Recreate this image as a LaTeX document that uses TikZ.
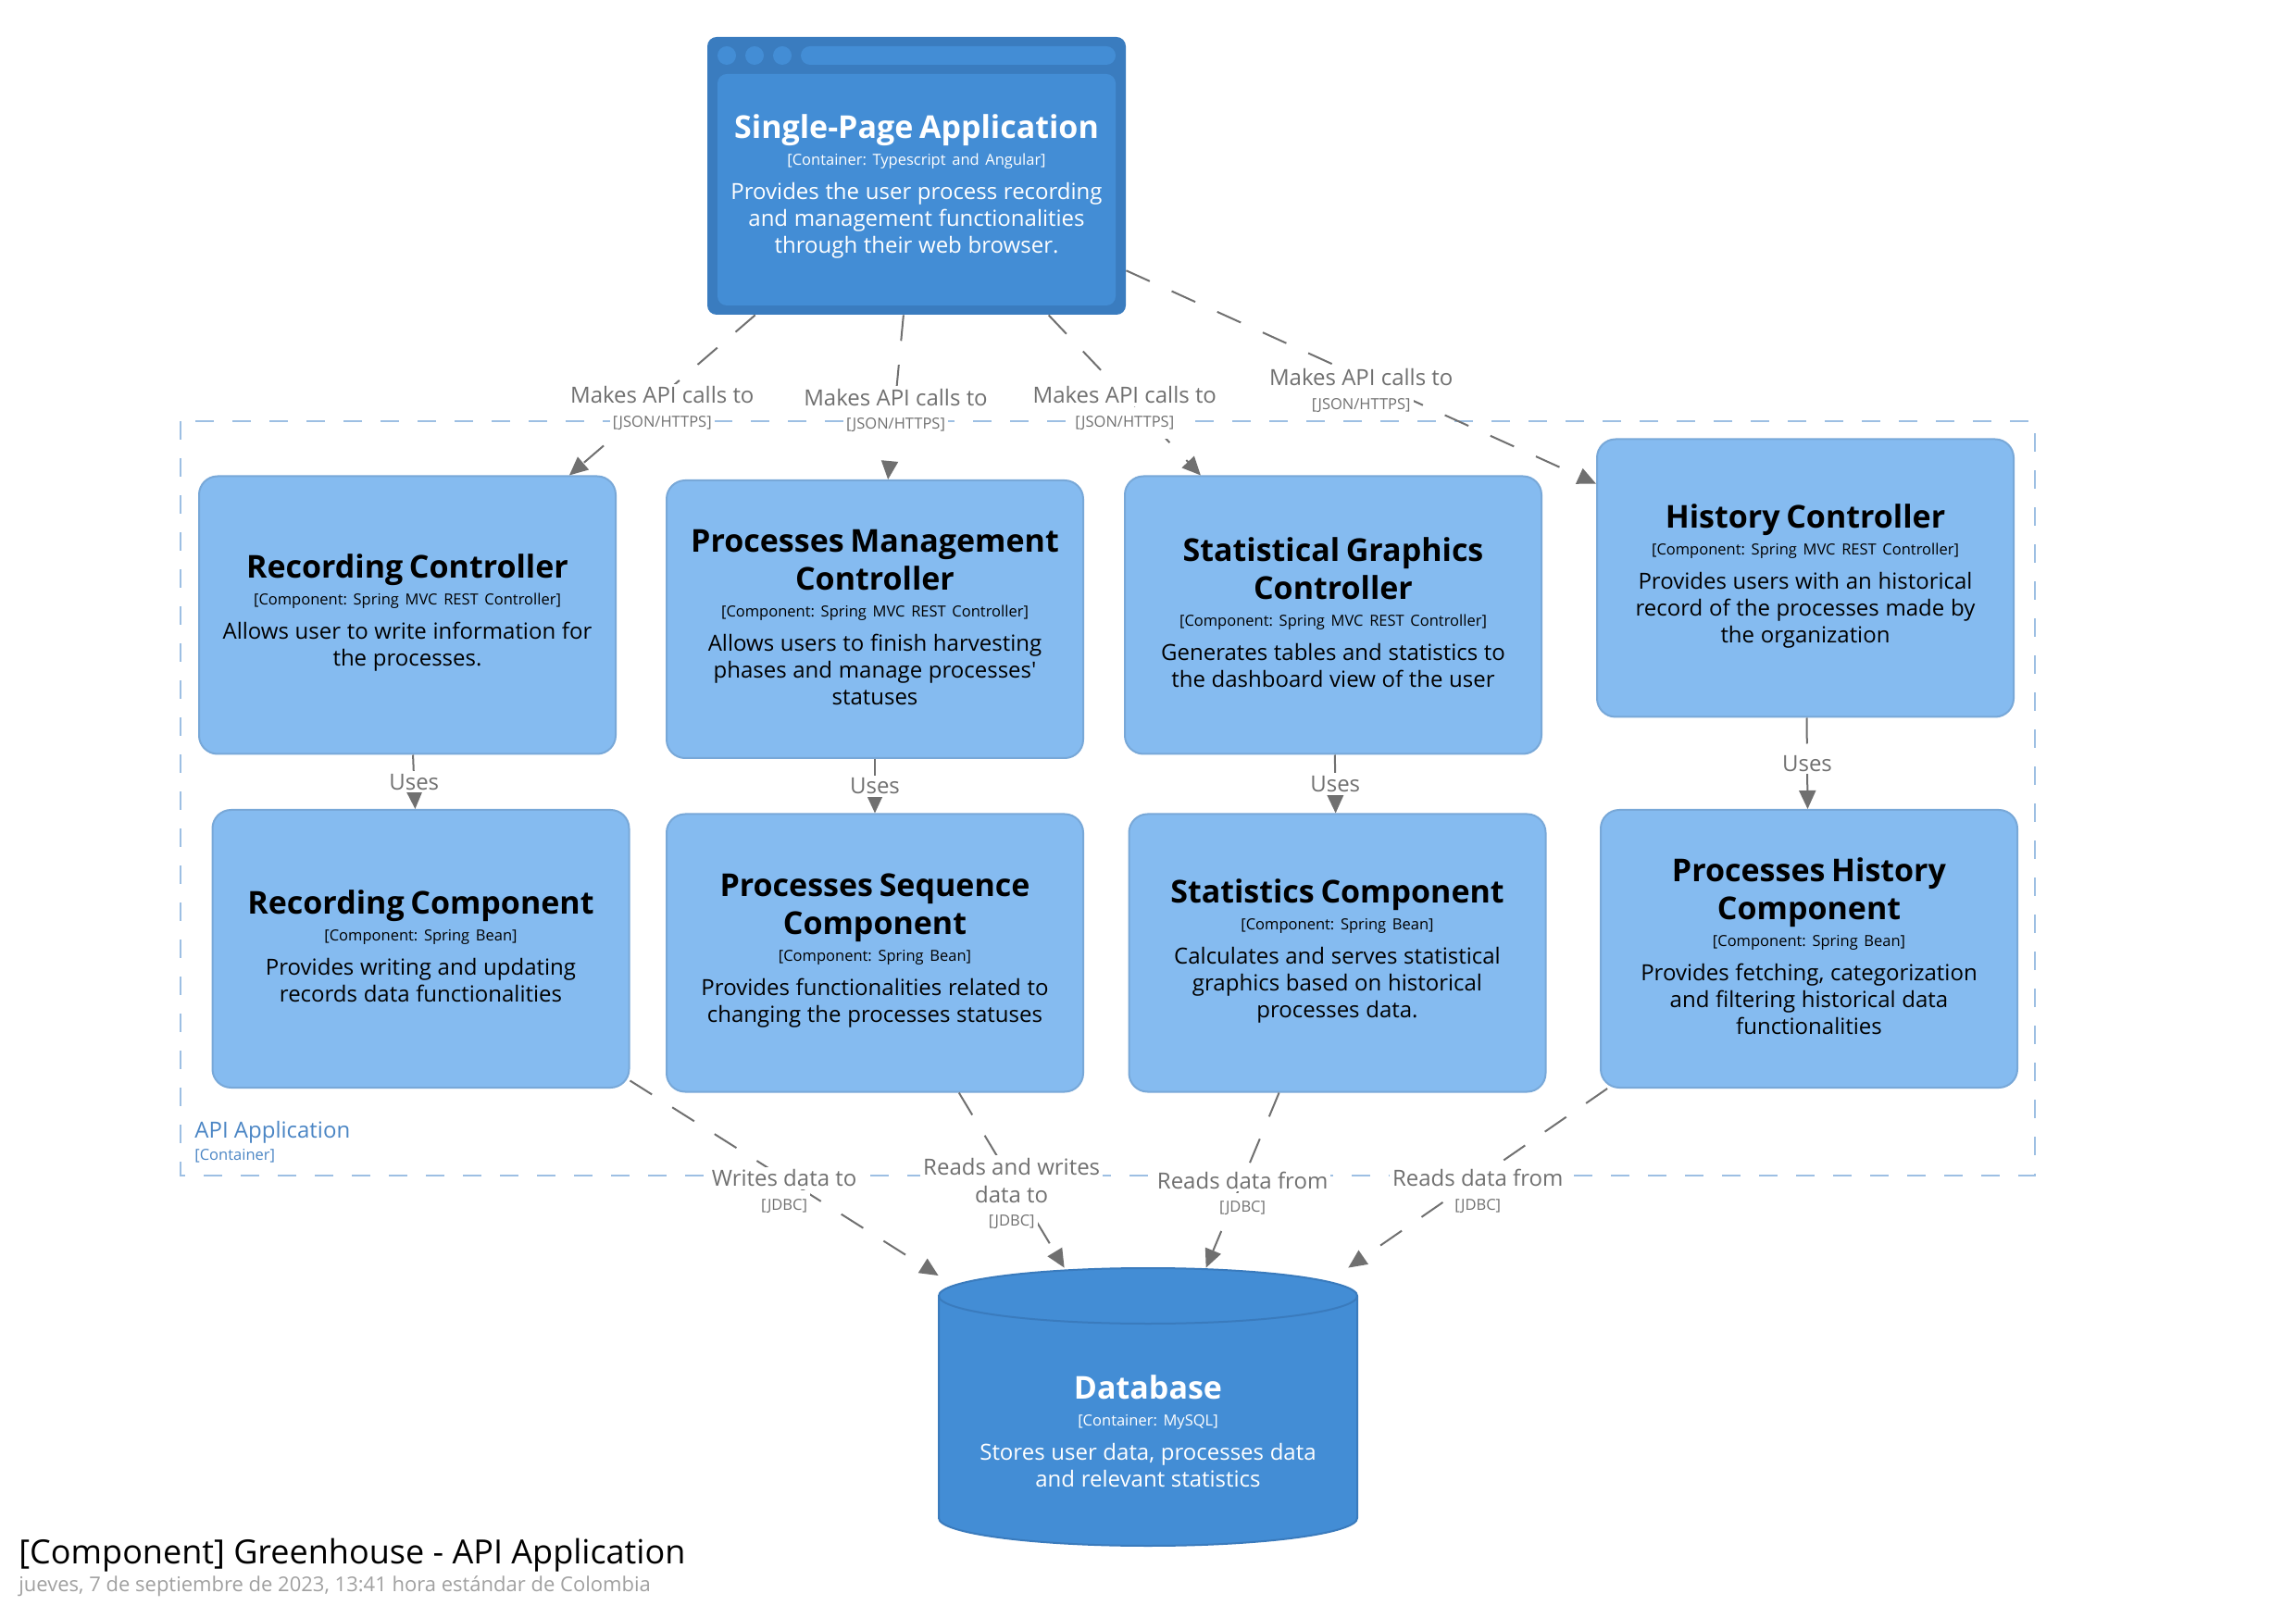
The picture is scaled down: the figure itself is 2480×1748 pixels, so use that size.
\documentclass[tikz,border=0pt]{standalone}
\usepackage{fontspec}
\setmainfont{Open Sans}
\usetikzlibrary{positioning,arrows.meta}
\frenchspacing

\definecolor{spaframe}{HTML}{3A7CBF}
\definecolor{spafill}{HTML}{438DD5}
\definecolor{compfill}{HTML}{85BBF0}
\definecolor{compedge}{HTML}{78A8D8}
\definecolor{dbedge}{HTML}{3A7BBD}
\definecolor{relgray}{HTML}{707070}
\definecolor{bndline}{HTML}{9DBFE3}
\definecolor{bndtext}{HTML}{4A85C4}
\definecolor{dategray}{HTML}{A0A0A0}

\newcommand{\namefont}{\fontsize{17pt}{20.5pt}\selectfont\bfseries}
\newcommand{\metafont}{\fontsize{8.25pt}{14.5pt}\selectfont}
\newcommand{\descfont}{\fontsize{12pt}{14.5pt}\selectfont}
\newcommand{\elem}[3]{{\namefont #1\par}{\metafont [#2]\par}\vskip4pt{\descfont #3\par}}
\newcommand{\compelem}[3]{\elem{#1}{#2}{#3}\kern2.5pt}

\tikzset{
  comp/.style={draw=compedge, line width=1pt, fill=compfill, rounded corners=10pt,
    minimum width=225pt, minimum height=150pt, text width=215pt, align=center, inner sep=0pt},
  rel/.style={draw=relgray, line width=1pt, dash pattern=on 14pt off 13pt,
    -{Triangle[length=10pt,width=9pt]}},
  lbl/.style={fill=white, text=relgray, inner sep=1.5pt, align=center,
    font=\fontsize{12pt}{15pt}\selectfont},
  tech/.style={fill=white, text=relgray, inner xsep=1.5pt, inner ysep=4.5pt,
    font=\fontsize{8.25pt}{10pt}\selectfont},
}

\begin{document}
\begin{tikzpicture}[x=0.5pt, y=-0.5pt]
    \useasboundingbox (0,0) rectangle (2480,1748);

    % --- API Application boundary ---
    \draw[bndline, line width=1pt, dash pattern=on 10pt off 10pt] (195,455) rectangle (2198,1270);
    \node[anchor=west, text=bndtext, inner sep=0pt, font=\fontsize{12pt}{14pt}\selectfont] (bndname) at (210,1223) {API Application};
    \node[anchor=west, text=bndtext, inner sep=0pt, font=\fontsize{8.25pt}{10pt}\selectfont] (bndtype) at (210,1249) {[Container]};

    % --- Single-Page Application (browser window) ---
    \node[fill=spaframe, rounded corners=5pt, minimum width=226pt, minimum height=150pt, inner sep=0pt] (spa) at (990,190) {};
    \fill[spafill, rounded corners=5pt] (775,80) rectangle (1205,330);
    \foreach \dx in {785,815,845}
        \fill[spafill] (\dx,60) circle (5pt);
    \fill[spafill, rounded corners=5pt] (865,50) rectangle (1205,70);
    \node[text=white, text width=220pt, align=center, inner sep=0pt] (spatext) at (990,201)
        {\elem{Single-Page Application}{Container: Typescript and Angular}{Provides the user process recording\\and management functionalities\\through their web browser.}};

    % --- Controllers ---
    \node[comp] (rc) at (440,664.5)
        {\compelem{Recording Controller}{Component: Spring MVC REST Controller}{Allows user to write information for\\the processes.}};
    \node[comp] (pmc) at (945,669)
        {\compelem{Processes Management\\Controller}{Component: Spring MVC REST Controller}{Allows users to finish harvesting\\phases and manage processes\textquotesingle\\statuses}};
    \node[comp] (sgc) at (1440,664.5)
        {\compelem{Statistical Graphics\\Controller}{Component: Spring MVC REST Controller}{Generates tables and statistics to\\the dashboard view of the user}};
    \node[comp] (hc) at (1950,624.5)
        {\compelem{History Controller}{Component: Spring MVC REST Controller}{Provides users with an historical\\record of the processes made by\\the organization}};

    % --- Components ---
    \node[comp] (rcomp) at (454.5,1025)
        {\compelem{Recording Component}{Component: Spring Bean}{Provides writing and updating\\records data functionalities}};
    \node[comp] (psc) at (945,1029.5)
        {\compelem{Processes Sequence\\Component}{Component: Spring Bean}{Provides functionalities related to\\changing the processes statuses}};
    \node[comp] (stc) at (1444.5,1029.5)
        {\compelem{Statistics Component}{Component: Spring Bean}{Calculates and serves statistical\\graphics based on historical\\processes data.}};
    \node[comp] (phc) at (1954,1025)
        {\compelem{Processes History\\Component}{Component: Spring Bean}{Provides fetching, categorization\\and filtering historical data\\functionalities}};

    % --- Database (cylinder) ---
    \node[minimum width=226pt, minimum height=150pt, inner sep=0pt] (db) at (1240,1520) {};
    \filldraw[fill=spafill, draw=dbedge, line width=1pt]
        (1014,1400) -- (1014,1640) arc[start angle=180, end angle=360, x radius=113pt, y radius=15pt]
        -- (1466,1400) arc[start angle=0, end angle=180, x radius=113pt, y radius=15pt] -- cycle;
    \draw[dbedge, line width=1pt] (1014,1400) arc[start angle=180, end angle=360, x radius=113pt, y radius=15pt];
    \node[text=white, text width=220pt, align=center, inner sep=0pt] (dbtext) at (1240,1546)
        {\elem{Database}{Container: MySQL}{Stores user data, processes data\\and relevant statistics}};

    % --- SPA -> controllers ---
    \draw[rel] (spa) -- node[lbl] (m1) {Makes API calls to} (rc);
    \node[tech, below=0pt of m1] (t1) {[JSON/HTTPS]};
    \draw[rel] (spa) -- node[lbl] (m2) {Makes API calls to} (pmc);
    \node[tech, below=0pt of m2] (t2) {[JSON/HTTPS]};
    \draw[rel] (spa) -- node[lbl] (m3) {Makes API calls to} (sgc);
    \node[tech, below=0pt of m3] (t3) {[JSON/HTTPS]};
    \draw[rel] (spa) -- node[lbl] (m4) {Makes API calls to} (hc);
    \node[tech, below=0pt of m4] (t4) {[JSON/HTTPS]};

    % --- controllers -> components ---
    \draw[rel] (rc) -- node[lbl] (u1) {Uses} (rcomp);
    \draw[rel] (pmc) -- node[lbl] (u2) {Uses} (psc);
    \draw[rel] (sgc) -- node[lbl] (u3) {Uses} (stc);
    \draw[rel] (hc) -- node[lbl] (u4) {Uses} (phc);

    % --- components -> database ---
    \draw[rel] (rcomp) -- node[lbl] (d1) {Writes data to} (db);
    \node[tech, below=0pt of d1] (j1) {[JDBC]};
    \draw[rel] (psc) -- node[lbl] (d2) {Reads and writes\\data to} (db);
    \node[tech, below=0pt of d2] (j2) {[JDBC]};
    \draw[rel] (stc) -- node[lbl] (d3) {Reads data from} (db);
    \node[tech, below=0pt of d3] (j3) {[JDBC]};
    \draw[rel] (phc) -- node[lbl] (d4) {Reads data from} (db);
    \node[tech, below=0pt of d4] (j4) {[JDBC]};

    % --- diagram title ---
    \node[anchor=west, inner sep=0pt, font=\fontsize{18pt}{22pt}\selectfont] (title) at (20,1680)
        {[Component] Greenhouse - API Application};
    \node[anchor=west, inner sep=0pt, text=dategray, font=\fontsize{11pt}{13pt}\selectfont] (date) at (20,1714)
        {jueves, 7 de septiembre de 2023, 13:41 hora estándar de Colombia};

\end{tikzpicture}
\end{document}
